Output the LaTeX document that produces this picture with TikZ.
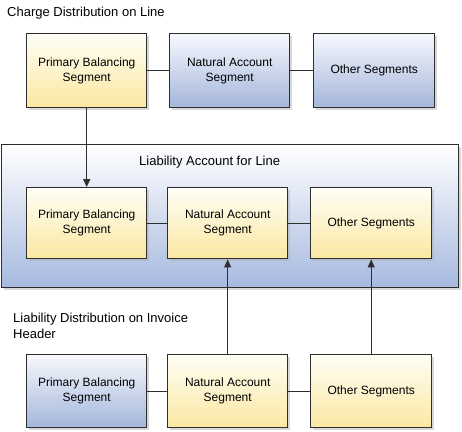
\documentclass[tikz,border=0pt]{standalone}
\usepackage{fontspec}
\setmainfont{Liberation Sans}
\usetikzlibrary{arrows.meta,shadows}
\definecolor{ytop}{HTML}{FFFEF6}
\definecolor{ybot}{HTML}{FBE8A2}
\definecolor{btop}{HTML}{F6F8FD}
\definecolor{bbot}{HTML}{A4B6DC}
\definecolor{ctop}{HTML}{FFFFFF}
\definecolor{cbot}{HTML}{A6B9DF}
\definecolor{edge}{HTML}{2E2E2E}
\tikzset{
  segbox/.style={draw=edge, line width=1.4pt, inner sep=0pt, anchor=north west,
    minimum width=120pt, align=center, font=\fontsize{12}{15}\selectfont,
    drop shadow={shadow xshift=2.5pt, shadow yshift=-2.5pt, fill=black!30}},
  ybox/.style={segbox, top color=ytop, bottom color=ybot},
  bbox/.style={segbox, top color=btop, bottom color=bbot},
  link/.style={draw=edge, line width=1.2pt},
  arr/.style={draw=edge, line width=1.2pt, -{Triangle[length=8pt,width=7pt]}},
  ttl/.style={font=\fontsize{13}{16}\selectfont, anchor=west, align=left, inner sep=0pt}
}
\begin{document}
\begin{tikzpicture}[x=1pt,y=-1pt]
\useasboundingbox (0,0) rectangle (462,431);
% top group
\node[ttl] (t1) at (7,13) {Charge Distribution on Line};
\node[ybox, minimum height=74pt] (a1) at (26,33) {Primary Balancing\\Segment};
\node[bbox, minimum height=74pt] (a2) at (169,33) {Natural Account\\Segment};
\node[bbox, minimum height=74pt, minimum width=121pt] (a3) at (313,33) {Other Segments};
% container
\node[draw=edge, line width=1.4pt, anchor=north west, inner sep=0pt,
  minimum width=457pt, minimum height=143pt, top color=ctop, bottom color=cbot,
  drop shadow={shadow xshift=2.5pt, shadow yshift=-2.5pt, fill=black!30}] (c) at (1,144) {};
\node[ttl] (t2) at (139,162) {Liability Account for Line};
\node[ybox, minimum height=71pt] (b1) at (26,187) {Primary Balancing\\Segment};
\node[ybox, minimum height=71pt] (b2) at (167,187) {Natural Account\\Segment};
\node[ybox, minimum height=71pt, minimum width=121pt] (b3) at (310,187) {Other Segments};
% bottom group
\node[ttl] (t3) at (13,326) {Liability Distribution on Invoice\\Header};
\node[bbox, minimum height=73pt] (d1) at (26,354) {Primary Balancing\\Segment};
\node[ybox, minimum height=73pt] (d2) at (167,354) {Natural Account\\Segment};
\node[ybox, minimum height=73pt, minimum width=121pt] (d3) at (310,354) {Other Segments};
% connectors
\draw[link] (a1) -- (a2);
\draw[link] (a2) -- (a3);
\draw[link] (b1) -- (b2);
\draw[link] (b2) -- (b3);
\draw[link] (d1) -- (d2);
\draw[link] (d2) -- (d3);
\draw[arr] (a1.south) -- (b1.north);
\draw[arr] (d2.north) -- (b2.south);
\draw[arr] (d3.north) -- (b3.south);
\end{tikzpicture}
\end{document}
